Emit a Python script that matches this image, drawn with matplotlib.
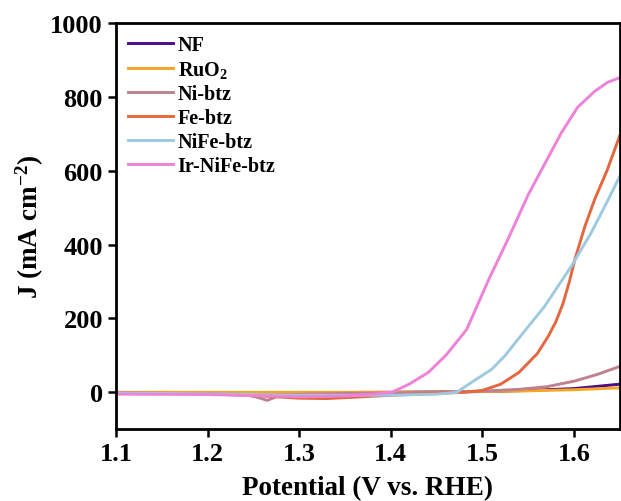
import numpy as np
import matplotlib
matplotlib.use("Agg")
import matplotlib.pyplot as plt

# LSV data
labels = ["NF", "RuO$_2$", "Ni-btz", "Fe-btz", "NiFe-btz", "Ir-NiFe-btz"]
colors = ["#4B0C8C", "#F5A623", "#C0808F", "#E4683F", "#9ECAE1", "#EE82D8"]

nf_v = [1.10, 1.20, 1.30, 1.40, 1.50, 1.55, 1.60, 1.65]
nf_j = [-2, -2, -1, 0, 2, 5, 10, 22]

ruo2_v = [1.10, 1.20, 1.30, 1.40, 1.50, 1.55, 1.60, 1.65]
ruo2_j = [0, 0, 0, 0, 2, 4, 7, 12]

nibtz_v = [1.10, 1.20, 1.24, 1.255, 1.265, 1.275, 1.29, 1.35, 1.40, 1.45, 1.50, 1.54, 1.57, 1.60, 1.625, 1.65]
nibtz_j = [-2, -4, -6, -14, -22, -12, -6, -3, -2, 0, 3, 8, 15, 30, 48, 70]

febtz_v = [1.10, 1.20, 1.26, 1.30, 1.33, 1.37, 1.40, 1.45, 1.48, 1.50, 1.52, 1.54, 1.56, 1.572,
           1.580, 1.588, 1.595, 1.601, 1.612, 1.623, 1.636, 1.65]
febtz_j = [-2, -4, -10, -16, -17, -12, -8, -3, 0, 5, 22, 54, 105, 152,
           190, 240, 300, 360, 450, 525, 600, 695]

nifebtz_v = [1.10, 1.20, 1.30, 1.40, 1.45, 1.472, 1.49, 1.510, 1.525, 1.539, 1.568, 1.597, 1.619, 1.637, 1.65]
nifebtz_j = [-2, -4, -8, -8, -5, 0, 30, 62, 100, 144, 233, 341, 433, 520, 585]

irnifebtz_v = [1.10, 1.20, 1.30, 1.35, 1.385, 1.401, 1.42, 1.441, 1.460, 1.477, 1.483, 1.507, 1.528,
               1.550, 1.572, 1.586, 1.604, 1.623, 1.637, 1.65]
irnifebtz_j = [-5, -6, -12, -10, -4, 0, 22, 54, 100, 152, 171, 306, 415,
               535, 637, 702, 772, 816, 840, 852]

all_v = [nf_v, ruo2_v, nibtz_v, febtz_v, nifebtz_v, irnifebtz_v]
all_j = [nf_j, ruo2_j, nibtz_j, febtz_j, nifebtz_j, irnifebtz_j]

plt.rcParams["font.family"] = "Liberation Serif"
plt.rcParams["font.weight"] = "bold"
plt.rcParams["mathtext.fontset"] = "custom"
plt.rcParams["mathtext.rm"] = "Liberation Serif:bold"
plt.rcParams["mathtext.default"] = "rm"

fig = plt.figure(figsize=(6.21, 5.02), dpi=100)
ax = fig.add_axes([0.187, 0.143, 0.811, 0.809])

for v, j, lab, c in zip(all_v, all_j, labels, colors):
    ax.plot(v, j, color=c, lw=2.1, label=lab)

ax.set_xlim(1.1, 1.65)
ax.set_ylim(-100, 1000)
ax.set_xticks([1.1, 1.2, 1.3, 1.4, 1.5, 1.6])
ax.set_yticks([0, 200, 400, 600, 800, 1000])
ax.tick_params(direction="out", length=6, width=1.8, labelsize=19, top=False, right=False)
for s in ax.spines.values():
    s.set_linewidth(2)

ax.set_xlabel("Potential (V vs. RHE)", fontsize=19.5, fontweight="bold", labelpad=7)
ax.set_ylabel("J (mA cm$^{-2}$)", fontsize=19.5, fontweight="bold", labelpad=3)

ax.legend(loc="upper left", frameon=False, fontsize=14.5, handlelength=2.2,
          labelspacing=0.2, borderaxespad=0.2, handletextpad=0.25)

fig.savefig("out.png", dpi=100)
